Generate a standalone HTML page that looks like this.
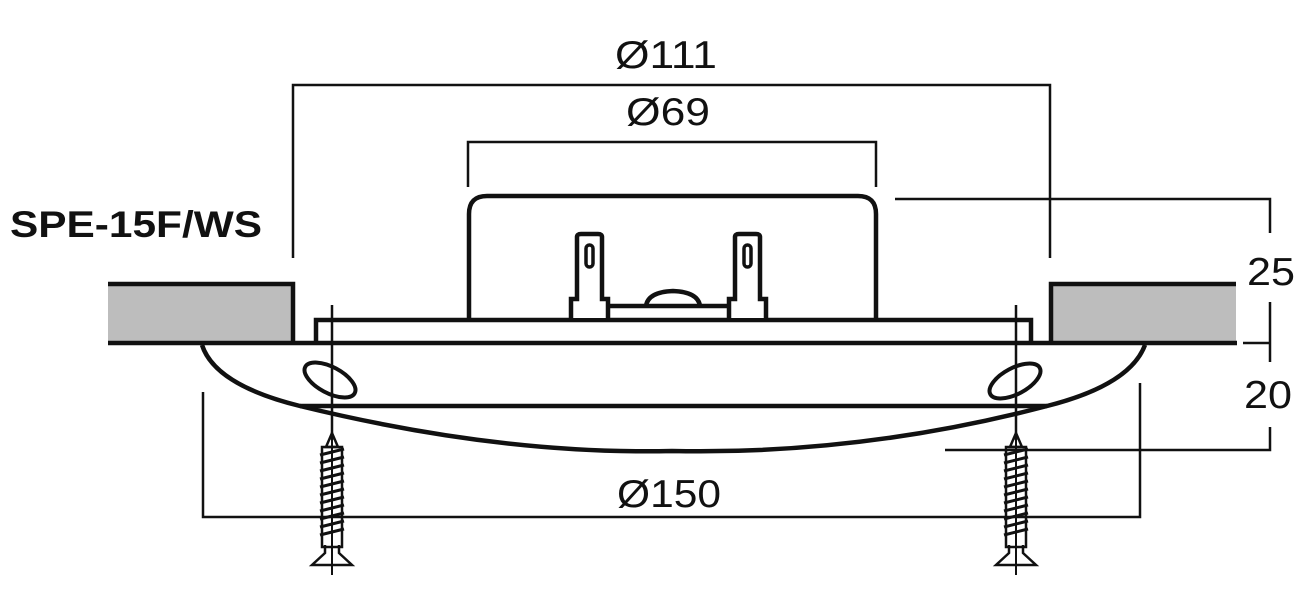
<!DOCTYPE html>
<html><head><meta charset="utf-8"><style>html,body{margin:0;padding:0;background:#fff}svg{display:block}</style></head>
<body>
<svg width="1307" height="596" viewBox="0 0 1307 596" xmlns="http://www.w3.org/2000/svg" font-family="Liberation Sans, sans-serif">
<defs>
<g id="screw">
  <path d="M0,0 L-6,14 L6,14 Z" fill="none" stroke="#111" stroke-width="2.5"/>
  <rect x="-10" y="14" width="20" height="100" fill="none" stroke="#111" stroke-width="2.5"/>
  <g stroke="#111" stroke-width="3">
    <line x1="-12" y1="22" x2="12" y2="16"/><line x1="-12" y1="30" x2="12" y2="24"/>
    <line x1="-12" y1="38" x2="12" y2="32"/><line x1="-12" y1="46" x2="12" y2="40"/>
    <line x1="-12" y1="54" x2="12" y2="48"/><line x1="-12" y1="62" x2="12" y2="56"/>
    <line x1="-12" y1="70" x2="12" y2="64"/><line x1="-12" y1="78" x2="12" y2="72"/>
    <line x1="-12" y1="86" x2="12" y2="80"/><line x1="-12" y1="94" x2="12" y2="88"/>
    <line x1="-12" y1="102" x2="12" y2="96"/>
  </g>
  <path d="M-7,112 L-7,120 L-20,132 L20,132 L7,120 L7,112" fill="none" stroke="#111" stroke-width="2.5"/>
  <line x1="0" y1="0" x2="0" y2="142" stroke="#111" stroke-width="2"/>
</g>
</defs>
<g fill="#111" font-size="39">
  <text x="615" y="68" textLength="102" lengthAdjust="spacingAndGlyphs">Ø111</text>
  <text x="626" y="125" textLength="84" lengthAdjust="spacingAndGlyphs">Ø69</text>
  <text x="617" y="507" textLength="104" lengthAdjust="spacingAndGlyphs">Ø150</text>
  <text x="1247" y="285" textLength="48" lengthAdjust="spacingAndGlyphs">25</text>
  <text x="1244" y="408" textLength="48" lengthAdjust="spacingAndGlyphs">20</text>
</g>
<text x="10" y="237" font-size="37" font-weight="bold" fill="#111" textLength="252" lengthAdjust="spacingAndGlyphs">SPE-15F/WS</text>
<g stroke="#111" stroke-width="2.5" fill="none">
  <path d="M293,258 V85 H1050 V258"/>
  <path d="M468,187 V142 H876 V187"/>
  <path d="M895,199 H1270 V233 M1270,302 V362 M1243,343 H1270 M1270,427 V450 H945"/>
  <path d="M203,392 V517 H1140 V383"/>
  <line x1="332" y1="305" x2="332" y2="440"/>
  <line x1="1016" y1="305" x2="1016" y2="440"/>
</g>
<g stroke="#111" stroke-width="4.5">
  <rect x="108" y="284" width="185" height="59" fill="#bdbdbd" stroke="none"/>
  <rect x="1051" y="284" width="185" height="59" fill="#bdbdbd" stroke="none"/>
  <path d="M108,284 H293 V343" fill="none"/>
  <path d="M1236,284 H1051 V343" fill="none"/>
  <line x1="108" y1="343" x2="1237" y2="343"/>
  <path d="M316,343 V320 H1031 V343" fill="none"/>
  <path d="M469,318 V214 Q469,196 487,196 H858 Q876,196 876,214 V318" fill="none"/>
  <path d="M571,318 V299 H577 V237 Q577,234 581,234 H598 Q602,234 602,237 V299 H608 V318" fill="white"/>
  <path d="M729,318 V299 H735 V237 Q735,234 739,234 H756 Q760,234 760,237 V299 H766 V318" fill="white"/>
  <rect x="586" y="245" width="7" height="22" rx="3.5" fill="none" stroke-width="3.5"/>
  <rect x="744" y="245" width="7" height="22" rx="3.5" fill="none" stroke-width="3.5"/>
  <path d="M608,306 H729" fill="none"/>
  <path d="M646,306 Q648,292 673,291 Q698,292 700,306" fill="none"/>
  <path d="M202,345 Q215,385 300,406 Q500,455 672,451 Q860,455 1047,406 Q1130,385 1145,345" fill="none"/>
  <line x1="300" y1="406" x2="1047" y2="406"/>
  <ellipse cx="330" cy="380" rx="28" ry="13" transform="rotate(28 330 380)" fill="none" stroke-width="4"/>
  <ellipse cx="1015" cy="381" rx="28" ry="13" transform="rotate(-28 1015 381)" fill="none" stroke-width="4"/>
</g>
<use href="#screw" x="332" y="433"/>
<use href="#screw" x="1016" y="433"/>
</svg>
</body></html>
